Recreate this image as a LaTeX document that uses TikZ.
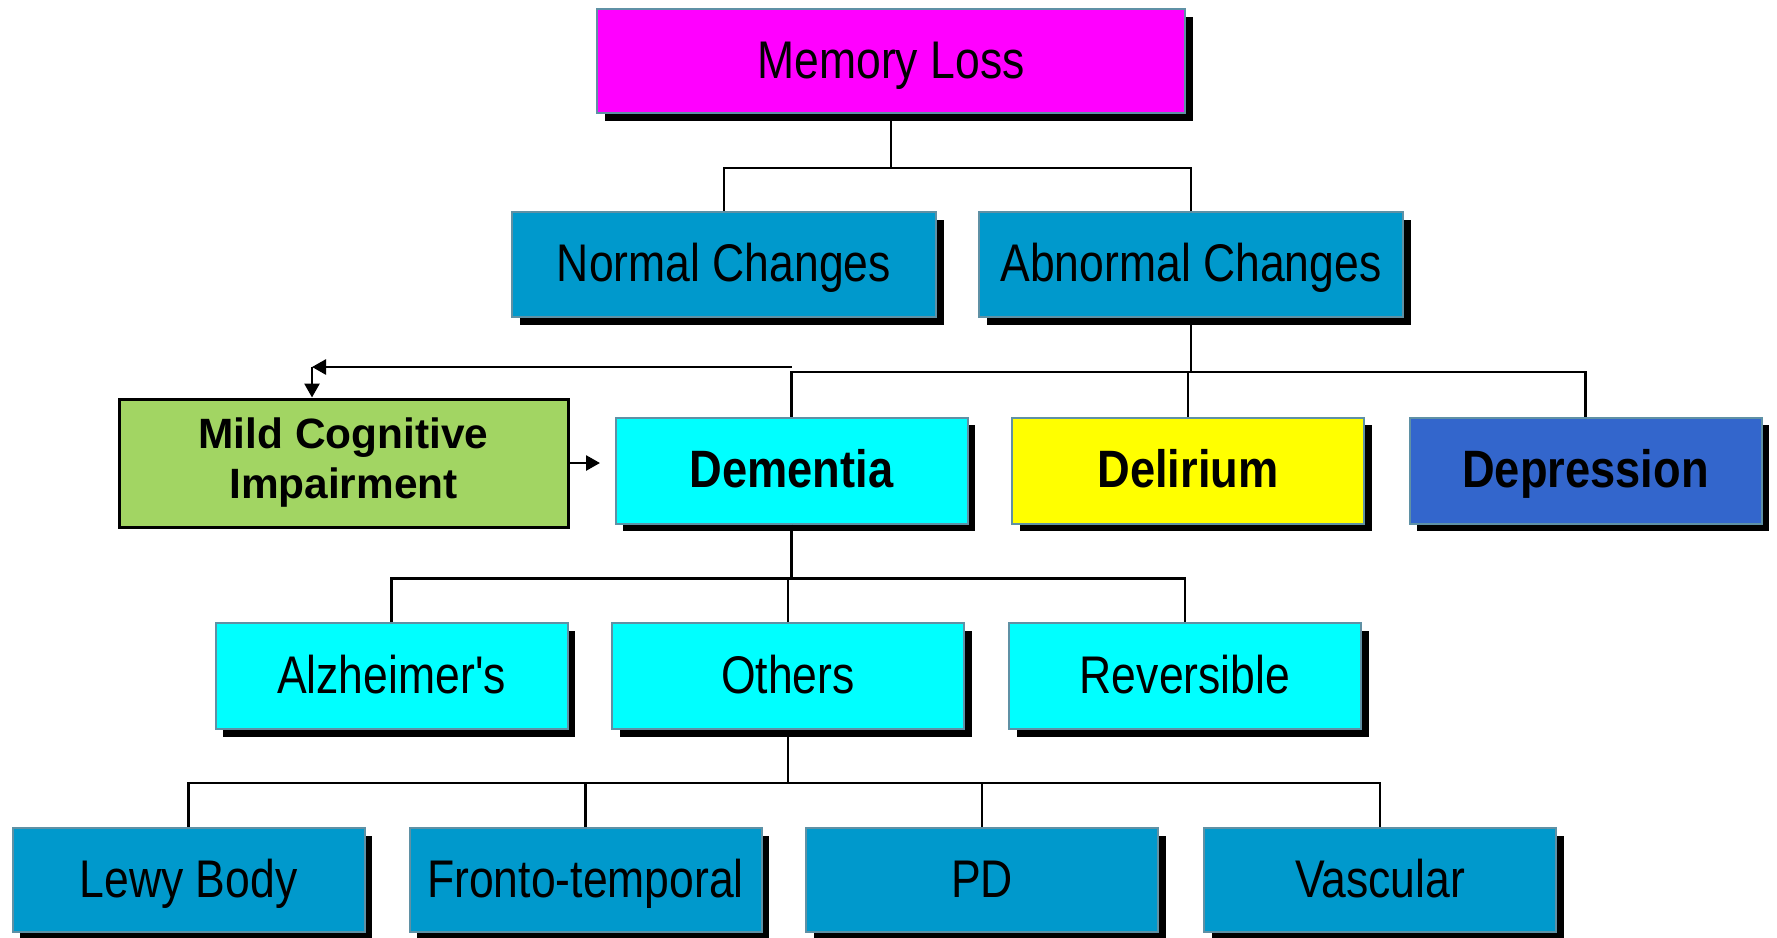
\documentclass[tikz,border=0pt]{standalone}
\usepackage{fontspec}
\setmainfont{Liberation Sans}
\newfontfamily\narrowfont[FakeStretch=0.84]{Liberation Sans}
\newfontfamily\boldnarrow[FakeStretch=0.86]{Liberation Sans}
\usetikzlibrary{shadows,arrows.meta}

\definecolor{boxedge}{RGB}{95,145,165}
\definecolor{lossmagenta}{RGB}{255,0,255}
\definecolor{changeblue}{RGB}{0,153,204}
\definecolor{dementcyan}{RGB}{0,255,255}
\definecolor{delyellow}{RGB}{255,255,0}
\definecolor{depblue}{RGB}{51,102,204}
\definecolor{mcigreen}{RGB}{162,213,99}

\begin{document}
\begin{tikzpicture}[
            x=0.5pt, y=-0.5pt,
            every node/.append style={black, inner sep=0pt},
            box/.style={draw=boxedge, line width=1pt,
                drop shadow={shadow xshift=3.8pt, shadow yshift=-3.8pt, fill=black, opacity=1},
                minimum width=176pt, minimum height=53pt, text height=19pt, text depth=2pt,
                font=\narrowfont\fontsize{26.5}{30}\selectfont},
            boldbox/.style={box, font=\boldnarrow\bfseries\fontsize{26.3}{30}\selectfont},
            link/.style={draw=black, line width=1.35pt},
            tip/.style={-{Triangle[length=7pt,width=7.5pt]}}
        ]
            \useasboundingbox (0,0) rectangle (1777,937);

            % top levels
            \node[box, fill=lossmagenta, minimum width=294pt, minimum height=52pt] (loss) at (891,61) {Memory Loss};
            \node[box, fill=changeblue, minimum width=212pt, minimum height=52.5pt] (normal) at (724,264.5) {Normal Changes};
            \node[box, fill=changeblue, minimum width=212pt, minimum height=52.5pt] (abnormal) at (1191,264.5) {Abnormal Changes};

            % third level
            \node[draw=black, line width=1.5pt, fill=mcigreen, minimum width=224.5pt, minimum height=64pt,
                align=center, font=\bfseries\fontsize{21.2}{25}\selectfont] (mci) at (343.5,463) {Mild Cognitive\\Impairment};
            \node[boldbox, fill=dementcyan] (dem) at (791.5,470.5) {Dementia};
            \node[boldbox, fill=delyellow] (delir) at (1188,470.5) {Delirium};
            \node[boldbox, fill=depblue] (depr) at (1585.5,470.5) {Depression};

            % fourth level
            \node[box, fill=dementcyan] (alz) at (391.5,676) {Alzheimer's};
            \node[box, fill=dementcyan] (others) at (788,676) {Others};
            \node[box, fill=dementcyan] (rev) at (1185,676) {Reversible};

            % bottom level
            \node[box, fill=changeblue, minimum height=52pt] (lewy) at (188.5,880) {Lewy Body};
            \node[box, fill=changeblue, minimum height=52pt] (fronto) at (585.5,880) {Fronto-temporal};
            \node[box, fill=changeblue, minimum height=52pt] (pd) at (982,880) {PD};
            \node[box, fill=changeblue, minimum height=52pt] (vasc) at (1380,880) {Vascular};

            % tree lines
            \draw[link] (loss.south) -- ++(0,54) coordinate (j1);
            \draw[link] (normal.north) |- (j1) -| (abnormal.north);

            \draw[link] (abnormal.south) -- ++(0,54) coordinate (j2);
            \draw[link] (dem.north) |- (j2) -| (depr.north);
            \draw[link] (delir.north) -- (delir.north |- j2);

            \draw[link] (dem.south) -- ++(0,54) coordinate (j3);
            \draw[link] (alz.north) |- (j3) -| (rev.north);
            \draw[link] (others.north) -- (others.north |- j3);

            \draw[link] (others.south) -- ++(0,53) coordinate (j4);
            \draw[link] (lewy.north) |- (j4) -| (vasc.north);
            \draw[link] (fronto.north) -- (fronto.north |- j4);
            \draw[link] (pd.north) -- (pd.north |- j4);

            % mci arrows
            \coordinate (bend) at (312,367);
            \coordinate (mcitip) at (600,463);
            \draw[link, tip] (dem.north |- bend) -- (bend);
            \draw[link, tip] (bend) -- (mci.north -| bend);
            \draw[link, tip] (mci.east) -- (mcitip);
        \end{tikzpicture}
\end{document}
